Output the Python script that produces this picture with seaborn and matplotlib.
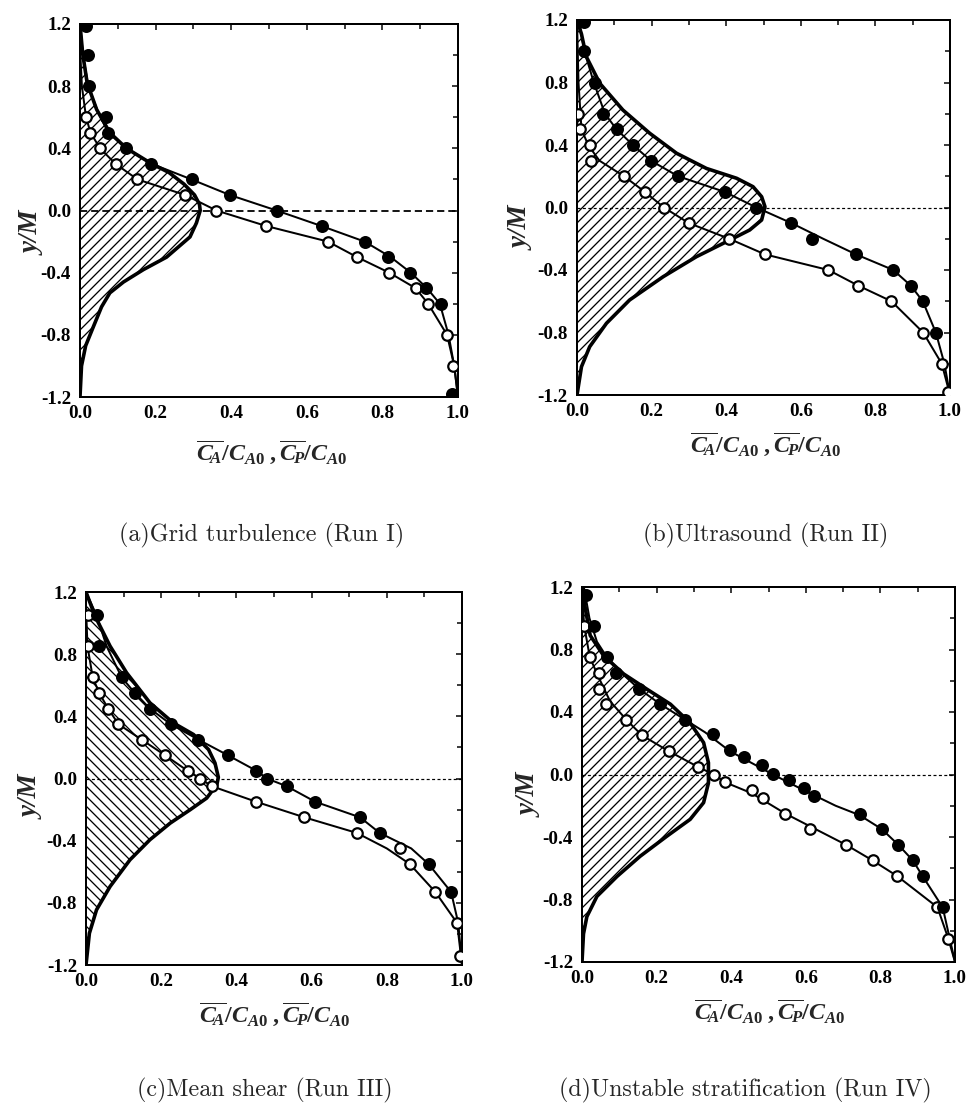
import numpy as np
import pandas as pd
import matplotlib
matplotlib.use("Agg")
import matplotlib.pyplot as plt
from matplotlib.ticker import MultipleLocator, FormatStrFormatter
import seaborn as sns

# ---------------- data ----------------
# Panel (a) Grid turbulence
a_filled_x = [0.015, 0.022, 0.025, 0.070, 0.075, 0.123, 0.189, 0.295, 0.396, 0.520, 0.639, 0.753, 0.815, 0.872, 0.916, 0.954, 0.985]
a_filled_y = [1.19, 1.00, 0.80, 0.60, 0.50, 0.40, 0.30, 0.20, 0.10, 0.00, -0.10, -0.20, -0.30, -0.40, -0.50, -0.60, -1.18]
a_open_x = [0.016, 0.026, 0.053, 0.094, 0.152, 0.278, 0.361, 0.493, 0.656, 0.733, 0.818, 0.888, 0.921, 0.971, 0.987]
a_open_y = [0.60, 0.50, 0.40, 0.30, 0.20, 0.10, 0.00, -0.10, -0.20, -0.30, -0.40, -0.50, -0.60, -0.80, -1.00]
a_cA_x = [0.0, 0.008, 0.022, 0.045, 0.075, 0.123, 0.19, 0.295, 0.396, 0.52, 0.639, 0.753, 0.822, 0.875, 0.918, 0.952, 0.975, 0.99, 1.0]
a_cA_y = [1.2, 1.0, 0.8, 0.65, 0.5, 0.4, 0.3, 0.2, 0.1, 0.0, -0.1, -0.2, -0.3, -0.4, -0.5, -0.6, -0.8, -1.0, -1.2]
a_cP_x = [0.0, 0.005, 0.016, 0.028, 0.053, 0.094, 0.152, 0.278, 0.361, 0.493, 0.656, 0.733, 0.818, 0.888, 0.921, 0.971, 0.99, 1.0]
a_cP_y = [1.05, 0.8, 0.6, 0.5, 0.4, 0.3, 0.2, 0.1, 0.0, -0.1, -0.2, -0.3, -0.4, -0.5, -0.6, -0.8, -1.0, -1.2]
a_bell_x = [0.0, 0.007, 0.019, 0.044, 0.079, 0.123, 0.19, 0.235, 0.275, 0.303, 0.316, 0.318, 0.308, 0.291, 0.229, 0.168, 0.115, 0.079, 0.057, 0.035, 0.015, 0.004, 0.0]
a_bell_y = [1.2, 1.01, 0.82, 0.65, 0.50, 0.40, 0.30, 0.245, 0.17, 0.10, 0.04, 0.0, -0.08, -0.17, -0.30, -0.38, -0.46, -0.53, -0.62, -0.75, -0.87, -1.0, -1.2]

# Panel (b) Ultrasound
b_filled_x = [0.02, 0.02, 0.047, 0.07, 0.106, 0.15, 0.198, 0.271, 0.396, 0.481, 0.575, 0.631, 0.748, 0.848, 0.895, 0.927, 0.962]
b_filled_y = [1.19, 1.0, 0.8, 0.6, 0.5, 0.4, 0.3, 0.2, 0.1, 0.0, -0.1, -0.2, -0.3, -0.4, -0.5, -0.6, -0.8]
b_open_x = [0.003, 0.007, 0.036, 0.038, 0.126, 0.182, 0.233, 0.30, 0.408, 0.504, 0.674, 0.754, 0.843, 0.928, 0.978, 0.995]
b_open_y = [0.6, 0.5, 0.4, 0.3, 0.2, 0.1, 0.0, -0.1, -0.2, -0.3, -0.4, -0.5, -0.6, -0.8, -1.0, -1.18]
b_cA_x = [0.005, 0.02, 0.045, 0.075, 0.106, 0.15, 0.198, 0.271, 0.396, 0.481, 0.575, 0.66, 0.748, 0.848, 0.895, 0.927, 0.962, 0.985, 1.0]
b_cA_y = [1.2, 1.0, 0.8, 0.6, 0.5, 0.4, 0.3, 0.2, 0.1, 0.0, -0.1, -0.2, -0.3, -0.4, -0.5, -0.6, -0.8, -1.0, -1.2]
b_cP_x = [0.0, 0.004, 0.012, 0.03, 0.06, 0.126, 0.182, 0.233, 0.30, 0.408, 0.504, 0.674, 0.754, 0.843, 0.928, 0.978, 1.0]
b_cP_y = [1.2, 0.8, 0.5, 0.4, 0.3, 0.2, 0.1, 0.0, -0.1, -0.2, -0.3, -0.4, -0.5, -0.6, -0.8, -1.0, -1.2]
b_bell_x = [0.0, 0.012, 0.025, 0.061, 0.123, 0.195, 0.267, 0.347, 0.428, 0.472, 0.495, 0.504, 0.495, 0.463, 0.41, 0.32, 0.231, 0.141, 0.079, 0.034, 0.012, 0.0]
b_bell_y = [1.2, 1.11, 0.965, 0.795, 0.624, 0.475, 0.347, 0.25, 0.187, 0.133, 0.069, 0.005, -0.08, -0.144, -0.208, -0.315, -0.443, -0.592, -0.741, -0.891, -1.019, -1.2]

# Panel (c) Mean shear
c_filled_x = [0.028, 0.035, 0.095, 0.13, 0.17, 0.225, 0.299, 0.377, 0.453, 0.481, 0.534, 0.61, 0.729, 0.781, 0.911, 0.971]
c_filled_y = [1.05, 0.85, 0.65, 0.55, 0.45, 0.35, 0.25, 0.15, 0.05, 0.0, -0.05, -0.15, -0.25, -0.35, -0.55, -0.73]
c_open_x = [0.004, 0.004, 0.018, 0.035, 0.059, 0.086, 0.148, 0.21, 0.27, 0.303, 0.335, 0.453, 0.581, 0.72, 0.834, 0.861, 0.929, 0.987, 0.996]
c_open_y = [1.05, 0.85, 0.65, 0.55, 0.45, 0.35, 0.25, 0.15, 0.05, 0.0, -0.05, -0.15, -0.25, -0.35, -0.45, -0.55, -0.73, -0.93, -1.14]
c_cA_x = [0.0, 0.028, 0.055, 0.095, 0.13, 0.17, 0.225, 0.299, 0.377, 0.453, 0.481, 0.534, 0.61, 0.729, 0.781, 0.865, 0.911, 0.971, 0.99, 1.0]
c_cA_y = [1.2, 1.05, 0.85, 0.65, 0.55, 0.45, 0.35, 0.25, 0.15, 0.05, 0.0, -0.05, -0.15, -0.25, -0.35, -0.45, -0.55, -0.73, -0.93, -1.2]
c_cP_x = [0.0, 0.004, 0.018, 0.035, 0.059, 0.086, 0.148, 0.21, 0.27, 0.303, 0.335, 0.453, 0.581, 0.72, 0.80, 0.861, 0.929, 0.987, 1.0]
c_cP_y = [1.1, 0.85, 0.65, 0.55, 0.45, 0.35, 0.25, 0.15, 0.05, 0.0, -0.05, -0.15, -0.25, -0.35, -0.45, -0.55, -0.73, -0.93, -1.2]
c_bell_x = [0.0, 0.024, 0.064, 0.108, 0.17, 0.232, 0.286, 0.326, 0.343, 0.352, 0.348, 0.321, 0.277, 0.224, 0.17, 0.117, 0.064, 0.028, 0.009, 0.0]
c_bell_y = [1.2, 1.045, 0.852, 0.68, 0.487, 0.358, 0.283, 0.186, 0.1, 0.008, -0.04, -0.126, -0.201, -0.287, -0.394, -0.523, -0.695, -0.845, -0.996, -1.2]

# Panel (d) Unstable stratification
d_filled_x = [0.012, 0.031, 0.067, 0.092, 0.152, 0.21, 0.277, 0.351, 0.396, 0.435, 0.482, 0.512, 0.556, 0.594, 0.622, 0.744, 0.804, 0.848, 0.887, 0.913, 0.967]
d_filled_y = [1.15, 0.95, 0.75, 0.65, 0.55, 0.45, 0.35, 0.257, 0.156, 0.114, 0.064, 0.006, -0.032, -0.086, -0.139, -0.25, -0.35, -0.45, -0.55, -0.65, -0.85]
d_open_x = [0.003, 0.006, 0.021, 0.045, 0.045, 0.065, 0.119, 0.161, 0.232, 0.31, 0.353, 0.384, 0.455, 0.485, 0.545, 0.61, 0.708, 0.779, 0.845, 0.953, 0.982]
d_open_y = [1.15, 0.95, 0.75, 0.65, 0.55, 0.45, 0.35, 0.25, 0.15, 0.05, 0.0, -0.05, -0.10, -0.15, -0.25, -0.35, -0.45, -0.55, -0.65, -0.85, -1.05]
d_cA_x = [0.005, 0.02, 0.04, 0.067, 0.11, 0.152, 0.21, 0.277, 0.33, 0.396, 0.45, 0.512, 0.594, 0.68, 0.744, 0.804, 0.848, 0.887, 0.913, 0.967, 1.0]
d_cA_y = [1.2, 1.0, 0.85, 0.75, 0.64, 0.55, 0.45, 0.35, 0.27, 0.15, 0.08, 0.0, -0.1, -0.2, -0.26, -0.35, -0.45, -0.55, -0.65, -0.85, -1.2]
d_cP_x = [0.0, 0.006, 0.021, 0.045, 0.075, 0.119, 0.161, 0.232, 0.31, 0.353, 0.384, 0.455, 0.545, 0.61, 0.708, 0.779, 0.845, 0.953, 0.982, 1.0]
d_cP_y = [1.15, 0.95, 0.75, 0.62, 0.47, 0.35, 0.25, 0.15, 0.05, 0.0, -0.05, -0.12, -0.25, -0.33, -0.45, -0.55, -0.65, -0.85, -1.05, -1.2]
d_bell_x = [0.0, 0.009, 0.022, 0.058, 0.112, 0.174, 0.237, 0.29, 0.326, 0.339, 0.339, 0.326, 0.29, 0.228, 0.156, 0.094, 0.04, 0.013, 0.004, 0.0]
d_bell_y = [1.2, 1.06, 0.89, 0.76, 0.643, 0.546, 0.45, 0.33, 0.204, 0.075, -0.054, -0.18, -0.287, -0.394, -0.523, -0.652, -0.78, -0.91, -1.02, -1.2]

captions = ["(a)Grid turbulence (Run I)", "(b)Ultrasound (Run II)",
            "(c)Mean shear (Run III)", "(d)Unstable stratification (Run IV)"]
x_ticks = [0.0, 0.2, 0.4, 0.6, 0.8, 1.0]
y_ticks = [-1.2, -0.8, -0.4, 0.0, 0.4, 0.8, 1.2]

# ---------------- style ----------------
W, H, DPI = 971, 1109, 60
def pt(px):
    return px * 72.0 / DPI

sns.set_style("white")
plt.rcParams.update({
    "font.family": ["Liberation Serif", "DejaVu Serif"],
    "axes.unicode_minus": False,
    "mathtext.fontset": "custom",
    "mathtext.rm": "Liberation Serif:bold",
    "mathtext.it": "Liberation Serif:italic:bold",
    "mathtext.bf": "Liberation Serif:bold",
    "hatch.linewidth": pt(1.3),
    "hatch.color": "black",
})

fig = plt.figure(figsize=(W / DPI, H / DPI), dpi=DPI)
fig.patch.set_facecolor("white")

# axes rectangles in pixels: left, right, top, bottom
rects = [(80, 458, 24, 397), (577, 950, 20, 395), (86, 462, 592, 965), (582, 955, 587, 962)]
ylabel_pos = [(-0.124, 0.44), (-0.147, 0.445), (-0.144, 0.45), (-0.139, 0.445)]
xlabel_pos = [(0.508, -0.15), (0.507, -0.133), (0.503, -0.134), (0.504, -0.133)]
cap_pos = [(262, 535), (766, 535), (265, 1090), (745, 1090)]
hatches = ["//", "//", "\\\\", "//"]
dash_styles = [(0, (4, 2.2)), (0, (2.5, 2)), (0, (2.5, 2)), (0, (2.5, 2))]
dash_widths = [pt(1.8), pt(1.2), pt(1.2), pt(1.2)]

panels = [
    (a_filled_x, a_filled_y, a_open_x, a_open_y, a_cA_x, a_cA_y, a_cP_x, a_cP_y, a_bell_x, a_bell_y),
    (b_filled_x, b_filled_y, b_open_x, b_open_y, b_cA_x, b_cA_y, b_cP_x, b_cP_y, b_bell_x, b_bell_y),
    (c_filled_x, c_filled_y, c_open_x, c_open_y, c_cA_x, c_cA_y, c_cP_x, c_cP_y, c_bell_x, c_bell_y),
    (d_filled_x, d_filled_y, d_open_x, d_open_y, d_cA_x, d_cA_y, d_cP_x, d_cP_y, d_bell_x, d_bell_y),
]

xlabel = r"$\overline{C_{\!A}}/C_{A0}\;,\overline{C_{\!P}}/C_{A0}$"

for i, (fx, fy, ox, oy, cax, cay, cpx, cpy, bx, by) in enumerate(panels):
    l, r, t, b = rects[i]
    ax = fig.add_axes([l / W, 1 - b / H, (r - l) / W, (b - t) / H])
    ax.set_facecolor("white")

    # hatched reaction zone
    ax.fill_betweenx(by, 0, bx, facecolor="none", edgecolor="black",
                     hatch=hatches[i], linewidth=0, zorder=1)
    # zero line
    ax.axhline(0, color="black", linestyle=dash_styles[i], linewidth=dash_widths[i], zorder=2)

    # bell curve (thick)
    sns.lineplot(x=bx, y=by, sort=False, estimator=None, color="black",
                 linewidth=pt(3.6), ax=ax, zorder=3)
    # fitted curves
    sns.lineplot(x=cax, y=cay, sort=False, estimator=None, color="black",
                 linewidth=pt(2.0), ax=ax, zorder=4)
    sns.lineplot(x=cpx, y=cpy, sort=False, estimator=None, color="black",
                 linewidth=pt(2.0), ax=ax, zorder=4)
    # markers
    sns.scatterplot(x=ox, y=oy, s=pt(10.5) ** 2, facecolor="white", edgecolor="black",
                    linewidth=pt(2.2), ax=ax, zorder=5, clip_on=True)
    sns.scatterplot(x=fx, y=fy, s=pt(13) ** 2, color="black", edgecolor="black",
                    linewidth=0, ax=ax, zorder=6, clip_on=True)

    ax.set_xlim(0, 1.0)
    ax.set_ylim(-1.2, 1.2)
    ax.xaxis.set_minor_locator(MultipleLocator(0.1))
    ax.yaxis.set_minor_locator(MultipleLocator(0.2))
    ax.set_xticks(x_ticks)
    ax.set_yticks(y_ticks)
    ax.xaxis.set_major_formatter(FormatStrFormatter("%.1f"))
    ax.yaxis.set_major_formatter(FormatStrFormatter("%.1f"))
    ax.tick_params(which="both", direction="in", top=True, right=True,
                   width=pt(1.5), colors="black")
    ax.tick_params(which="major", length=pt(6), labelsize=pt(19))
    ax.tick_params(axis="x", which="major", pad=pt(8))
    ax.tick_params(axis="y", which="major", pad=pt(9))
    ax.tick_params(which="minor", length=pt(5))
    for lab in ax.get_xticklabels() + ax.get_yticklabels():
        lab.set_fontweight("bold")
        lab.set_family(["Liberation Serif"])
    for sp in ax.spines.values():
        sp.set_linewidth(pt(2.0))
        sp.set_color("black")
        sp.set_visible(True)

    ax.set_ylabel("y/M", fontsize=pt(27), fontweight="bold", fontstyle="italic",
                  family=["Liberation Serif"])
    ax.yaxis.set_label_coords(*ylabel_pos[i])
    ax.set_xlabel(xlabel, fontsize=pt(24))
    ax.xaxis.set_label_coords(*xlabel_pos[i])
    ax.xaxis.label.set_va("center")
    ax.yaxis.label.set_va("center")

    cx, cy = cap_pos[i]
    fig.text(cx / W, 1 - cy / H, captions[i], ha="center", va="center",
             fontsize=pt(24), family=["cmr10"])

fig.savefig("out.png", dpi=DPI, facecolor="white")
